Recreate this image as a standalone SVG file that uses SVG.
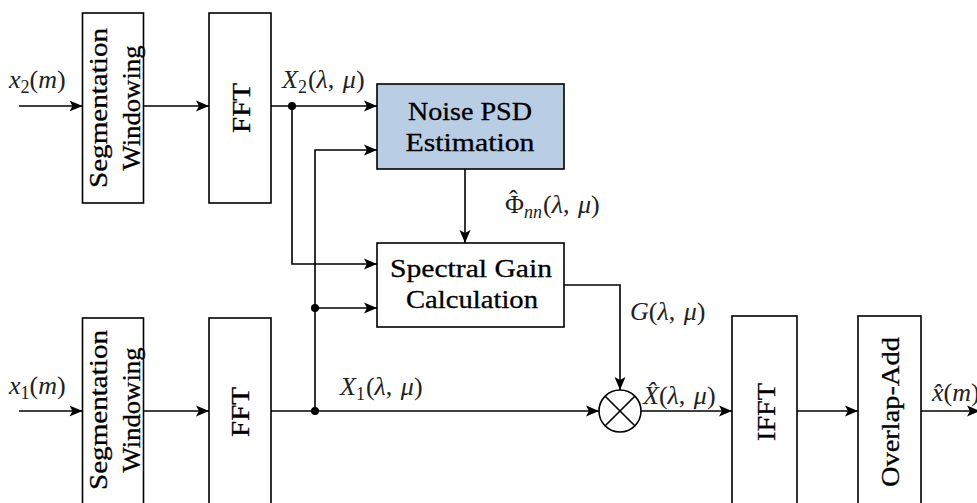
<svg xmlns="http://www.w3.org/2000/svg" width="977" height="503" viewBox="0 0 977 503">
<style>
.box{fill:#fff;stroke:#000;stroke-width:1.6}
.blue{fill:#B9CDE5}
.t{font-family:"Liberation Serif","Times New Roman",serif;font-size:25px;fill:#000;stroke:#000;stroke-width:0.3}
.m{font-family:"Liberation Serif","Times New Roman",serif;font-size:26px;fill:#222}
.i{font-style:italic}
.s{font-size:18px}
.w{fill:none;stroke:#000;stroke-width:1.6}
</style>
<defs>
<marker id="ah" markerUnits="userSpaceOnUse" markerWidth="14" markerHeight="12" refX="13" refY="6" orient="auto">
<path d="M0,0.5 L13,6 L0,11.5 L3,6 z" fill="#000"/>
</marker>
</defs>
<g id="seg2">
<rect class="box" x="82.5" y="13" width="61" height="190"/>
<text class="t" text-anchor="middle" transform="translate(107,108) rotate(-90)" textLength="160" lengthAdjust="spacingAndGlyphs">Segmentation</text>
<text class="t" text-anchor="middle" transform="translate(140,108) rotate(-90)" textLength="125" lengthAdjust="spacingAndGlyphs">Windowing</text>
</g>
<g id="fft2">
<rect class="box" x="209" y="13" width="62" height="190"/>
<text class="t" text-anchor="middle" transform="translate(250,108) rotate(-90)" textLength="50" lengthAdjust="spacingAndGlyphs">FFT</text>
</g>
<g id="seg1">
<rect class="box" x="82.5" y="318" width="61" height="192"/>
<text class="t" text-anchor="middle" transform="translate(107,410) rotate(-90)" textLength="160" lengthAdjust="spacingAndGlyphs">Segmentation</text>
<text class="t" text-anchor="middle" transform="translate(140,410) rotate(-90)" textLength="125" lengthAdjust="spacingAndGlyphs">Windowing</text>
</g>
<g id="fft1">
<rect class="box" x="209" y="318" width="62" height="192"/>
<text class="t" text-anchor="middle" transform="translate(249,412) rotate(-90)" textLength="50" lengthAdjust="spacingAndGlyphs">FFT</text>
</g>
<g id="noise">
<rect class="box blue" x="377" y="84" width="187" height="85"/>
<text class="t" x="470" y="120" text-anchor="middle" textLength="124" lengthAdjust="spacingAndGlyphs">Noise PSD</text>
<text class="t" x="470" y="151" text-anchor="middle" textLength="129" lengthAdjust="spacingAndGlyphs">Estimation</text>
</g>
<g id="gain">
<rect class="box" x="377" y="243" width="187" height="84"/>
<text class="t" x="471" y="277" text-anchor="middle" textLength="162" lengthAdjust="spacingAndGlyphs">Spectral Gain</text>
<text class="t" x="472" y="308" text-anchor="middle" textLength="132" lengthAdjust="spacingAndGlyphs">Calculation</text>
</g>
<g id="mult">
<circle cx="620" cy="411" r="21" class="w"/>
<path d="M605.2,396.2 L634.8,425.8 M634.8,396.2 L605.2,425.8" class="w"/>
</g>
<g id="ifft">
<rect class="box" x="732" y="316" width="65" height="194"/>
<text class="t" text-anchor="middle" transform="translate(775,412) rotate(-90)" textLength="58" lengthAdjust="spacingAndGlyphs">IFFT</text>
</g>
<g id="ola">
<rect class="box" x="858" y="316" width="63" height="194"/>
<text class="t" text-anchor="middle" transform="translate(899,412) rotate(-90)" textLength="150" lengthAdjust="spacingAndGlyphs">Overlap-Add</text>
</g>
<g id="connectors">
<path class="w" d="M19,106 H82.5" marker-end="url(#ah)"/>
<path class="w" d="M143.5,106 H209" marker-end="url(#ah)"/>
<path class="w" d="M271,106 H377" marker-end="url(#ah)"/>
<path class="w" d="M292,106 V264 H377" marker-end="url(#ah)"/>
<path class="w" d="M315,411 V150 H377" marker-end="url(#ah)"/>
<path class="w" d="M315,308 H377" marker-end="url(#ah)"/>
<path class="w" d="M465,169 V243" marker-end="url(#ah)"/>
<path class="w" d="M19,411 H82.5" marker-end="url(#ah)"/>
<path class="w" d="M143.5,411 H209" marker-end="url(#ah)"/>
<path class="w" d="M271,411 H599" marker-end="url(#ah)"/>
<path class="w" d="M564,285 H620 V390" marker-end="url(#ah)"/>
<path class="w" d="M641,411 H732" marker-end="url(#ah)"/>
<path class="w" d="M797,411 H858" marker-end="url(#ah)"/>
<path class="w" d="M921,411 H980" marker-end="url(#ah)"/>
<circle cx="292" cy="106" r="4"/>
<circle cx="315" cy="308" r="4"/>
<circle cx="315" cy="411" r="4"/>
</g>
<g id="labels">
<text class="m" x="9" y="88"><tspan class="i">x</tspan><tspan class="s" dy="5">2</tspan><tspan dy="-5">(</tspan><tspan class="i">m</tspan>)</text>
<text class="m" x="9" y="394"><tspan class="i">x</tspan><tspan class="s" dy="5">1</tspan><tspan dy="-5">(</tspan><tspan class="i">m</tspan>)</text>
<text class="m" x="282" y="88"><tspan class="i">X</tspan><tspan class="s" dy="5">2</tspan><tspan dy="-5" dx="1">(</tspan><tspan class="i">λ</tspan>, <tspan class="i" dx="2">μ</tspan>)</text>
<text class="m" x="340" y="395"><tspan class="i">X</tspan><tspan class="s" dy="5">1</tspan><tspan dy="-5" dx="1">(</tspan><tspan class="i">λ</tspan>, <tspan class="i" dx="2">μ</tspan>)</text>
<text class="m" x="505" y="213">Φ<tspan dx="-15" dy="-5">ˆ</tspan><tspan class="s i" dx="6.3" dy="10">nn</tspan><tspan dy="-5" dx="1">(</tspan><tspan class="i">λ</tspan>, <tspan class="i" dx="2">μ</tspan>)</text>
<text class="m" x="630" y="320"><tspan class="i">G</tspan>(<tspan class="i">λ</tspan>, <tspan class="i" dx="2">μ</tspan>)</text>
<text class="m" x="643" y="404"><tspan class="i">X̂</tspan>(<tspan class="i">λ</tspan>, <tspan class="i" dx="2">μ</tspan>)</text>
<text class="m" x="932" y="401"><tspan class="i">x̂</tspan>(<tspan class="i">m</tspan>)</text>
</g>
</svg>
